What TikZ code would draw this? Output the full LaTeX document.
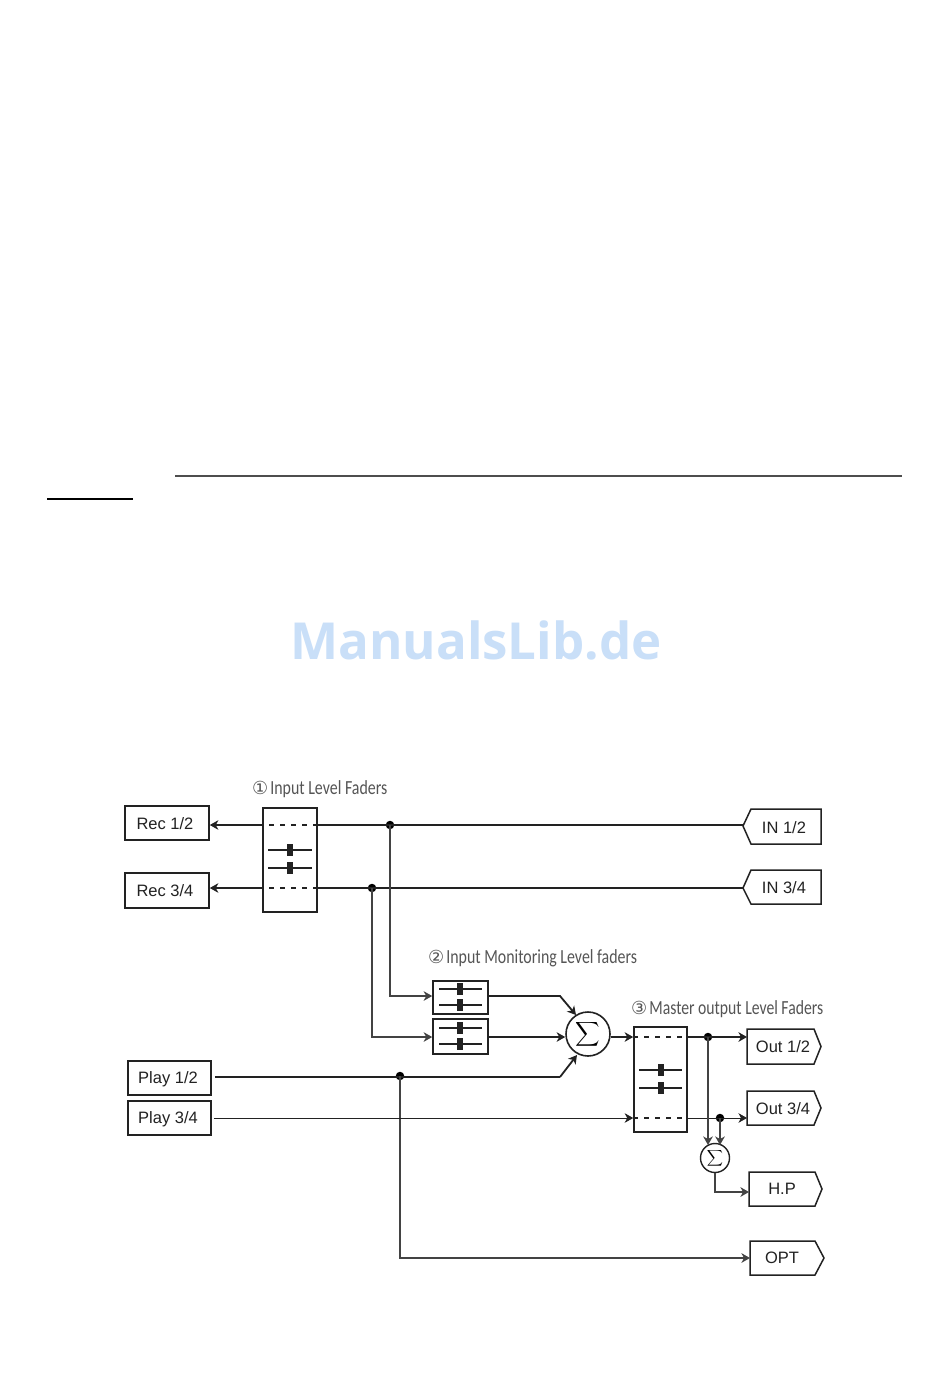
\documentclass[tikz,border=0pt]{standalone}
\usepackage{fontspec}
\usepackage{graphicx}
\setmainfont{Liberation Sans}
\newfontfamily\capfont{Carlito}
\newfontfamily\symfont{DejaVu Sans}
\newfontfamily\wmfont{Open Sans}
\usetikzlibrary{arrows.meta,calc}
\definecolor{ink}{HTML}{222222}
\definecolor{captxt}{HTML}{555555}
\definecolor{wm}{HTML}{C9DFF8}
\tikzset{
  x=1pt,y=-1pt,
  wire/.style={draw=ink,line width=1.8pt},
  thinwire/.style={draw=ink,line width=0.9pt},
  vwire/.style={draw=ink!85,line width=1.5pt},
  arr/.style={-{Stealth[length=8.5pt,width=9.5pt,inset=2.5pt]}},
  dashline/.style={draw=ink,line width=1.2pt,dash pattern=on 5pt off 6pt},
  box/.style={draw=ink,line width=1.6pt,inner sep=0pt},
  tagtext/.style={inner sep=0pt,font=\fontsize{16.5}{16.5}\selectfont,text=ink},
  tagline/.style={draw=ink,line width=1.5pt,line join=miter},
  caption/.style={inner sep=0pt,anchor=west,text=captxt,font=\capfont\fontsize{20}{20}\selectfont},
  dot/.style={circle,fill=black,inner sep=0pt,minimum size=8.5pt},
  sumbig/.style={circle,draw=ink,line width=1.6pt,inner sep=0pt,minimum size=44pt},
  sumsmall/.style={circle,draw=ink,line width=1.4pt,inner sep=0pt,minimum size=29pt},
  sliderline/.style={draw=ink,line width=1.3pt},
}
\newcommand{\rbox}[5]{% name x0 x1 y0 y1
  \node[box,minimum width=#3pt-#2pt,minimum height=#5pt-#4pt] (#1) at ({(#2+#3)/2},{(#4+#5)/2}) {};}
\newcommand{\slider}[4]{% x0 x1 y knobx
  \draw[sliderline] (#1,#3) -- (#2,#3);
  \fill[ink] (#4-3,#3-6) rectangle (#4+3,#3+6);}
\newcommand{\outtag}[6]{% name x0 xshoulder xpeak ytop ybot
  \coordinate (#1) at (#2,{(#5+#6)/2});
  \draw[tagline] (#2,#5) -- (#3,#5) -- (#4,{(#5+#6)/2}) -- (#3,#6) -- (#2,#6) -- cycle;
}
\newcommand{\captext}[3][0.795]{{\symfont\fontsize{18}{18}\selectfont #2}\hspace{2pt}\scalebox{#1}[1]{#3}}
\begin{document}
\begin{tikzpicture}
\useasboundingbox (0,0) rectangle (950,1387);
\fill[white] (0,0) rectangle (950,1387);
% page rules and watermark
\draw[ink!80,line width=1.2pt] (175,476) -- (902,476);
\draw[black,line width=1.2pt] (47,499) -- (133,499);
\node[inner sep=0pt,text=wm,font=\wmfont\bfseries\fontsize{51}{51}\selectfont] (wmark) at (476,640) {ManualsLib.de};
% captions
\node[caption] (cap1) at (252,789) {\captext{①}{Input Level Faders}};
\node[caption] (cap2) at (428,958) {\captext{②}{Input Monitoring Level faders}};
\node[caption] (cap3) at (631,1009) {\captext[0.785]{③}{Master output Level Faders}};
% source / sink boxes
\rbox{rec1}{125}{209}{806}{840}
\rbox{rec2}{125}{209}{873}{908}
\rbox{play1}{128}{211}{1061}{1095}
\rbox{play2}{128}{211}{1101}{1135}
\node[tagtext] (trec1) at (165,824) {Rec 1/2};
\node[tagtext] (trec2) at (165,891) {Rec 3/4};
\node[tagtext] (tplay1) at (168,1079) {Play 1/2};
\node[tagtext] (tplay2) at (168,1119) {Play 3/4};
% fader banks
\rbox{fa}{263}{317}{808}{912}
\rbox{fb1}{433}{488}{981}{1014}
\rbox{fb2}{433}{488}{1019}{1054}
\rbox{fc}{634}{687}{1027}{1132}
\slider{268}{312}{850}{290}
\slider{268}{312}{868}{290}
\slider{439}{482}{989}{460}
\slider{439}{482}{1005}{460}
\slider{439}{482}{1028}{460}
\slider{439}{482}{1044}{460}
\slider{639}{682}{1070}{661}
\slider{639}{682}{1088}{661}
% summers
\node[sumbig] (sum1) at (588,1034) {\scalebox{1.7}{$\displaystyle\sum$}};
\node[sumsmall] (sum2) at (715,1158) {\scalebox{1.12}{$\displaystyle\sum$}};
% tags
\draw[tagline] (751,809) -- (821,809) -- (821,844) -- (751,844) -- (743,826) -- cycle;
\draw[tagline] (751,870) -- (821,870) -- (821,904) -- (751,904) -- (743,888) -- cycle;
\outtag{out1}{747}{814}{821}{1029}{1064}
\outtag{out2}{747}{814}{821}{1091}{1125}
\outtag{hp}{749}{815}{822}{1172}{1206}
\outtag{opt}{750}{815}{824}{1241}{1275}
\coordinate (in1) at (743,826);
\coordinate (in2) at (743,888);
\node[tagtext] (tin1) at (784,828) {IN 1/2};
\node[tagtext] (tin2) at (784,888) {IN 3/4};
\node[tagtext] (tout1) at (783,1047) {Out 1/2};
\node[tagtext] (tout2) at (783,1109) {Out 3/4};
\node[tagtext] (thp) at (782,1189) {H.P};
\node[tagtext] (topt) at (782,1258) {OPT};
% junctions
\node[dot] (j1) at (390,825) {};
\node[dot] (j2) at (372,888) {};
\node[dot] (j3) at (400,1076) {};
\node[dot] (j4) at (708,1037) {};
\node[dot] (j5) at (720,1118) {};
% input wires
\draw[wire] (in1 |- j1.center) -- (j1.center) -- (fa.east |- j1.center);
\draw[wire] (in2 |- j2.center) -- (j2.center) -- (fa.east |- j2.center);
\draw[dashline] (fa.east |- j1.center) -- (fa.west |- j1.center);
\draw[dashline] (fa.east |- j2.center) -- (fa.west |- j2.center);
\draw[wire,arr] (fa.west |- j1.center) -- (rec1.east |- j1.center);
\draw[wire,arr] (fa.west |- j2.center) -- (rec2.east |- j2.center);
% monitoring
\coordinate (m1) at (fb1.west |- 0,996);
\coordinate (m2) at (fb2.west |- 0,1037);
\draw[vwire,arr] (j1.center) |- (m1);
\draw[vwire,arr] (j2.center) |- (m2);
\draw[wire,arr] (fb1.east |- m1) -- (560,996) -- (576,1015);
\draw[wire,arr] (fb2.east |- m2) -- (sum1.west |- m2);
\draw[wire] ($(play1.east |- j3.center)+(3,1)$) -- (560,1077);
\draw[wire,arr] (560,1077) -- (577,1055);
\draw[vwire,arr] (j3.center) |- (opt);
% master
\coordinate (c1) at (fc.west |- j4.center);
\coordinate (c2) at (fc.west |- j5);
\draw[wire,arr] (sum1.east |- c1) -- (c1);
\draw[thinwire,arr] ($(play2.east |- c2)+(2,0)$) -- (c2);
\draw[dashline] (c1) -- (fc.east |- c1);
\draw[dashline] (c2) -- (fc.east |- c2);
\draw[wire,arr] (fc.east |- c1) -- (out1 |- c1);
\draw[thinwire,arr] (fc.east |- c2) -- (out2 |- c2);
\draw[vwire,arr] (j4.center) -- (708,1145);
\draw[vwire,arr] (j5.center) -- (720,1145);
\draw[vwire,arr] (sum2.south) -- (sum2.south |- 0,1192) -- (hp |- 0,1192);
\end{tikzpicture}
\end{document}
